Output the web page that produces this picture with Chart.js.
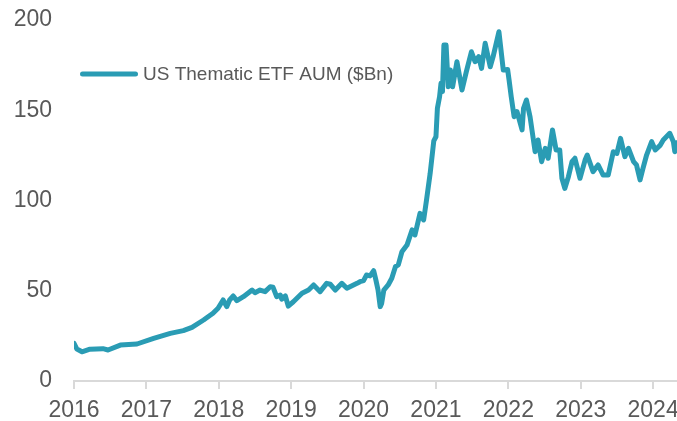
<!DOCTYPE html>
<html>
<head>
<meta charset="utf-8">
<title>US Thematic ETF AUM</title>
<script src="https://cdn.jsdelivr.net/npm/chart.js@4.4.1/dist/chart.umd.min.js"></script>
<style>
  html, body { margin: 0; padding: 0; background: #fff; }
  #wrap { width: 677px; height: 421px; }
</style>
</head>
<body>
<div id="wrap"><canvas id="aumChart" width="677" height="421"></canvas></div>
<script>
// Data (decimal year, $Bn)
const dates = [
  2016.00, 2016.04, 2016.11, 2016.22, 2016.40, 2016.47, 2016.64, 2016.87,
  2017.10, 2017.33, 2017.51, 2017.63, 2017.79, 2017.92, 2017.99, 2018.06,
  2018.11, 2018.15, 2018.20, 2018.25, 2018.34, 2018.46, 2018.50, 2018.57,
  2018.64, 2018.71, 2018.75, 2018.80, 2018.85, 2018.87, 2018.92, 2018.96,
  2019.03, 2019.15, 2019.24, 2019.31, 2019.40, 2019.49, 2019.54, 2019.61,
  2019.70, 2019.77, 2019.91, 2019.95, 2020.00, 2020.04, 2020.09, 2020.14,
  2020.17, 2020.20, 2020.23, 2020.25, 2020.28, 2020.34, 2020.39, 2020.44,
  2020.48, 2020.53, 2020.60, 2020.67, 2020.71, 2020.78, 2020.83, 2020.87,
  2020.92, 2020.97, 2021.00, 2021.02, 2021.05, 2021.07, 2021.09, 2021.11,
  2021.14, 2021.17, 2021.20, 2021.23, 2021.29, 2021.36, 2021.42, 2021.49,
  2021.54, 2021.59, 2021.63, 2021.68, 2021.75, 2021.79, 2021.87, 2021.93,
  2021.99, 2022.01, 2022.04, 2022.08, 2022.12, 2022.14, 2022.19, 2022.21,
  2022.25, 2022.30, 2022.37, 2022.41, 2022.46, 2022.51, 2022.55, 2022.61,
  2022.66, 2022.71, 2022.74, 2022.78, 2022.83, 2022.88, 2022.92, 2022.99,
  2023.06, 2023.09, 2023.17, 2023.24, 2023.31, 2023.38, 2023.45, 2023.50,
  2023.55, 2023.61, 2023.66, 2023.73, 2023.77, 2023.82, 2023.86, 2023.91,
  2023.98, 2024.03, 2024.10, 2024.14, 2024.23, 2024.28, 2024.30, 2024.32
];
const aum = [
  20.9, 17.7, 16.2, 17.6, 17.9, 17.2, 19.9, 20.5,
  23.6, 26.4, 27.9, 29.7, 33.8, 37.5, 40.3, 44.9,
  41.2, 44.9, 47.1, 44.5, 46.7, 50.4, 48.9, 50.4,
  49.5, 52.2, 51.9, 46.7, 47.6, 45.3, 47.1, 41.5,
  43.9, 48.6, 50.4, 53.2, 49.5, 54.1, 53.6, 50.4,
  54.1, 51.4, 54.1, 55.0, 55.6, 58.7, 58.2, 61.1,
  56.0, 50.4, 41.2, 43.0, 50.4, 53.2, 56.9, 63.3,
  64.3, 71.6, 75.3, 83.7, 80.9, 92.9, 89.2, 100.3,
  115.0, 133.0, 135.3, 151.1, 157.5, 164.9, 160.3, 186.1,
  186.1, 163.0, 172.3, 163.0, 176.9, 161.2, 171.4, 182.4,
  176.9, 179.7, 173.2, 187.1, 174.1, 179.7, 193.5, 172.3,
  172.6, 166.8, 157.5, 146.4, 149.2, 146.4, 139.1, 151.1,
  155.7, 146.4, 127.0, 133.5, 121.5, 128.9, 123.4, 139.1,
  128.0, 128.0, 112.3, 106.7, 113.2, 121.5, 123.4, 112.3,
  122.4, 125.2, 116.0, 119.7, 114.1, 114.1, 127.0, 126.1,
  134.4, 124.3, 128.9, 121.5, 119.7, 111.4, 117.8, 125.2,
  132.6, 128.0, 130.7, 133.5, 137.2, 132.6, 127.0, 132.0
];
const yearTicks = [2016, 2017, 2018, 2019, 2020, 2021, 2022, 2023, 2024];
const seriesLabel = 'US Thematic ETF AUM ($Bn)';

const lineColor = '#2a9cb4';
const textColor = '#595959';
const axisColor = '#d9d9d9';
const fontFamily = '"Liberation Sans Narrow", "Arial Narrow", "Liberation Sans", Arial, sans-serif';

// Legend sits inside the plot, so draw it ourselves
const insideLegend = {
  id: 'insideLegend',
  afterDraw(chart) {
    const ctx = chart.ctx;
    const y = 74;
    ctx.save();
    ctx.strokeStyle = lineColor;
    ctx.lineWidth = 5;
    ctx.lineCap = 'round';
    ctx.beginPath();
    ctx.moveTo(82.5, y);
    ctx.lineTo(135.5, y);
    ctx.stroke();
    ctx.fillStyle = textColor;
    ctx.font = '19px ' + fontFamily;
    ctx.textBaseline = 'middle';
    ctx.textAlign = 'left';
    ctx.fillText(chart.data.datasets[0].label, 143, y + 1);
    ctx.restore();
  }
};

const ctx = document.getElementById('aumChart').getContext('2d');
new Chart(ctx, {
  type: 'line',
  data: {
    datasets: [{
      label: seriesLabel,
      data: dates.map((d, i) => ({ x: d, y: aum[i] })),
      borderColor: lineColor,
      borderWidth: 5,
      borderCapStyle: 'round',
      borderJoinStyle: 'round',
      pointRadius: 0,
      tension: 0,
      fill: false
    }]
  },
  options: {
    responsive: false,
    animation: false,
    layout: { padding: { top: 20, right: 0, left: 0, bottom: 0 } },
    plugins: {
      legend: { display: false },
      tooltip: { enabled: false }
    },
    scales: {
      x: {
        type: 'linear',
        min: 2016,
        max: 2024.33,
        afterBuildTicks: scale => {
          scale.ticks = yearTicks.map(v => ({ value: v }));
        },
        afterFit: scale => {
          scale.height = 40;
          scale.paddingLeft = 0;
          scale.paddingRight = 0;
        },
        border: { display: true, color: axisColor, width: 2 },
        grid: {
          display: true,
          drawOnChartArea: false,
          drawTicks: true,
          tickLength: 8,
          color: axisColor,
          lineWidth: 2
        },
        ticks: {
          color: textColor,
          font: { family: fontFamily, size: 23 },
          padding: 8,
          maxRotation: 0,
          autoSkip: false,
          callback: v => String(v)
        }
      },
      y: {
        min: 0,
        max: 200,
        afterFit: scale => {
          scale.width = 74;
          scale.paddingTop = 0;
          scale.paddingBottom = 0;
        },
        border: { display: false },
        grid: { display: false, drawTicks: false },
        ticks: {
          stepSize: 50,
          color: textColor,
          font: { family: fontFamily, size: 23 },
          padding: 22
        }
      }
    }
  },
  plugins: [insideLegend]
});
</script>
</body>
</html>
